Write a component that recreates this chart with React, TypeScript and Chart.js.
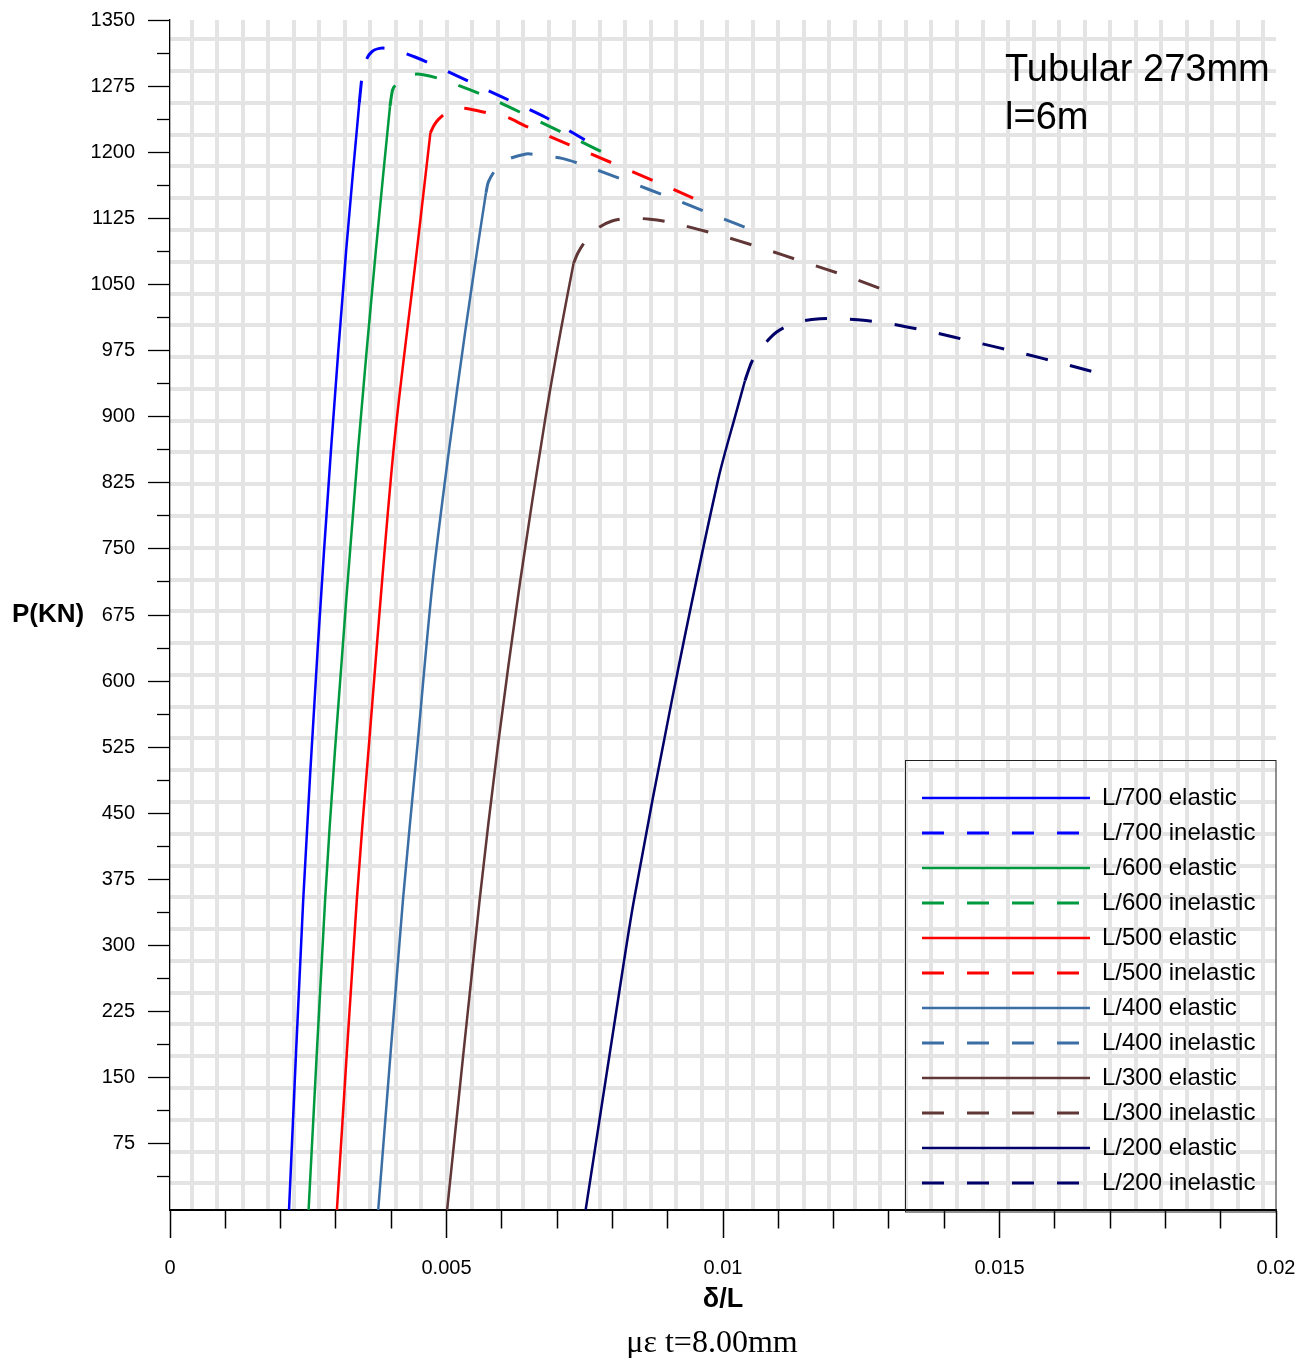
import React, { useEffect, useRef } from 'react';
import { Chart, registerables } from 'chart.js';

Chart.register(...registerables);

// ---------- data (delta/L , P in kN) ----------
const L700_elastic_x = [0.002152, 0.002409, 0.002669, 0.002911, 0.003186, 0.003423];
const L700_elastic_P = [0, 352, 635, 862, 1089, 1256];
const L700_inelastic_x = [0.003423, 0.00347, 0.0035, 0.00365, 0.00389, 0.00443, 0.00521, 0.00599, 0.00678, 0.0075];
const L700_inelastic_P = [1256, 1285, 1298, 1314, 1318, 1308, 1286, 1263, 1240, 1214];

const L600_elastic_x = [0.002506, 0.002805, 0.002984, 0.0034, 0.003723, 0.003978];
const L600_elastic_P = [0, 352, 522, 862, 1089, 1252];
const L600_inelastic_x = [0.003978, 0.004005, 0.00404, 0.00416, 0.00438, 0.00458, 0.00494, 0.00573, 0.00651, 0.00727, 0.00805];
const L600_inelastic_P = [1252, 1264, 1273, 1280, 1288, 1288, 1282, 1263, 1240, 1217, 1193];

const L500_elastic_x = [0.003018, 0.003378, 0.00359, 0.004042, 0.004465, 0.004709];
const L500_elastic_P = [0, 352, 522, 862, 1089, 1222];
const L500_inelastic_x = [0.004709, 0.00477, 0.00485, 0.00503, 0.00528, 0.00564, 0.00608, 0.00642, 0.0072, 0.00799, 0.00877, 0.00946];
const L500_inelastic_P = [1222, 1230, 1237, 1246, 1250, 1246, 1240, 1230, 1209, 1188, 1167, 1148];

const L400_elastic_x = [0.003765, 0.004213, 0.004467, 0.004747, 0.005045, 0.005335, 0.005555, 0.005714];
const L400_elastic_P = [0, 352, 522, 711, 862, 995, 1089, 1154];
const L400_inelastic_x = [0.005714, 0.005756, 0.005895, 0.006076, 0.006438, 0.006637, 0.007089, 0.00745, 0.008228, 0.009024, 0.009819, 0.010597];
const L400_inelastic_P = [1154, 1166, 1181, 1191, 1198, 1197, 1193, 1186, 1168, 1149, 1129, 1110];

const L300_elastic_x = [0.005011, 0.0056, 0.00592, 0.006327, 0.006792, 0.007058, 0.007298];
const L300_elastic_P = [0, 352, 522, 711, 900, 995, 1074];
const L300_inelastic_x = [0.007298, 0.007378, 0.007523, 0.00774, 0.007993, 0.008282, 0.00868, 0.009078, 0.009873, 0.010669, 0.011483, 0.01226, 0.013074];
const L300_inelastic_P = [1074, 1086, 1100, 1114, 1122, 1125, 1124, 1120, 1107, 1092, 1075, 1059, 1040];

const L200_elastic_x = [0.007516, 0.008101, 0.008391, 0.009078, 0.00991, 0.010253, 0.010398];
const L200_elastic_P = [0, 238, 352, 579, 828, 908, 941];
const L200_inelastic_x = [0.010398, 0.010452, 0.010519, 0.010638, 0.010971, 0.011333, 0.011754, 0.012152, 0.012586, 0.012966, 0.01378, 0.014593, 0.015407, 0.01622, 0.017034];
const L200_inelastic_P = [941, 951, 962, 974, 996, 1007, 1011, 1011, 1009, 1006, 996, 984, 972, 959, 945];

// ---------- tick values ----------
const xMajorTicks = [0, 0.005, 0.01, 0.015, 0.02];
const xMinorTicks = [0.001, 0.002, 0.003, 0.004, 0.006, 0.007, 0.008, 0.009, 0.011, 0.012, 0.013, 0.014, 0.016, 0.017, 0.018, 0.019];
const yMajorTicks = [75, 150, 225, 300, 375, 450, 525, 600, 675, 750, 825, 900, 975, 1050, 1125, 1200, 1275, 1350];
const yMinorTicks = [37.5, 112.5, 187.5, 262.5, 337.5, 412.5, 487.5, 562.5, 637.5, 712.5, 787.5, 862.5, 937.5, 1012.5, 1087.5, 1162.5, 1237.5, 1312.5];

const SANS = '"Liberation Sans", Arial, Helvetica, sans-serif';
const SERIF = '"Liberation Serif", "Times New Roman", serif';

const SERIES = [
  { name: 'L/700', color: '#0000ff', ex: L700_elastic_x, ep: L700_elastic_P, ix: L700_inelastic_x, ip: L700_inelastic_P },
  { name: 'L/600', color: '#009a3e', ex: L600_elastic_x, ep: L600_elastic_P, ix: L600_inelastic_x, ip: L600_inelastic_P },
  { name: 'L/500', color: '#ff0000', ex: L500_elastic_x, ep: L500_elastic_P, ix: L500_inelastic_x, ip: L500_inelastic_P },
  { name: 'L/400', color: '#3b6ea5', ex: L400_elastic_x, ep: L400_elastic_P, ix: L400_inelastic_x, ip: L400_inelastic_P },
  { name: 'L/300', color: '#603636', ex: L300_elastic_x, ep: L300_elastic_P, ix: L300_inelastic_x, ip: L300_inelastic_P },
  { name: 'L/200', color: '#000068', ex: L200_elastic_x, ep: L200_elastic_P, ix: L200_inelastic_x, ip: L200_inelastic_P },
];

const near = (a: number, list: number[]) => list.some((v) => Math.abs(v - a) < 1e-9);
const fmtX = (v: number) => String(parseFloat(Number(v).toFixed(4)));

const legendPlacer = {
  id: 'legendPlacer',
  afterLayout(chart: any) {
    const lg = chart.legend;
    if (!lg) return;
    const a = chart.chartArea;
    lg.left = 911;
    lg.top = 775;
    lg.right = a.right;
    lg.bottom = a.bottom + 2;
    lg.width = lg.right - lg.left;
    lg.height = lg.bottom - lg.top;
  },
  beforeDatasetsDraw(chart: any) {
    const ctx = chart.ctx;
    const a = chart.chartArea;
    ctx.save();
    ctx.strokeStyle = '#222';
    ctx.lineWidth = 1;
    ctx.strokeRect(905.5, 760.5, a.right - 905.5, a.bottom + 2 - 760.5);
    ctx.restore();
  },
};

export default function App() {
  const ref = useRef<HTMLCanvasElement | null>(null);

  useEffect(() => {
    if (!ref.current) return;
    const datasets: any[] = [];
    SERIES.forEach((s) => {
      datasets.push({
        label: `${s.name} elastic`,
        data: s.ex.map((x, i) => ({ x, y: s.ep[i] })),
        borderColor: s.color,
        backgroundColor: s.color,
        borderWidth: 2.5,
        borderDash: [],
        pointRadius: 0,
        pointStyle: 'line',
        tension: 0.3,
        fill: false,
      });
      datasets.push({
        label: `${s.name} inelastic`,
        data: s.ix.map((x, i) => ({ x, y: s.ip[i] })),
        borderColor: s.color,
        backgroundColor: s.color,
        borderWidth: 3,
        borderDash: [22, 23],
        pointRadius: 0,
        pointStyle: 'line',
        tension: 0.3,
        fill: false,
      });
    });

    const xTicksAll = [...xMajorTicks, ...xMinorTicks].sort((a, b) => a - b);
    const yTicksAll = [...yMajorTicks, ...yMinorTicks].sort((a, b) => a - b);
    const VGRID = 43;
    const HGRID = 37;

    const chart = new Chart(ref.current, {
      type: 'line',
      data: { datasets },
      plugins: [legendPlacer],
      options: {
        animation: false,
        responsive: false,
        devicePixelRatio: 1,
        events: [],
        layout: { padding: { left: 0, right: 38, top: 20, bottom: 0 } },
        plugins: {
          tooltip: { enabled: false },
          title: { display: false },
          legend: {
            display: true,
            position: 'chartArea' as any,
            align: 'start',
            labels: {
              usePointStyle: true,
              pointStyle: 'line',
              pointStyleWidth: 168,
              padding: 11,
              color: '#000',
              textAlign: 'left',
              font: { family: SANS, size: 24 },
              generateLabels: (c: any) => {
                const items = (Chart.defaults.plugins.legend.labels as any).generateLabels(c);
                return items.map((it: any) => {
                  const ds: any = c.data.datasets[it.datasetIndex];
                  return {
                    ...it,
                    lineDash: ds.borderDash,
                    lineWidth: ds.borderWidth,
                    strokeStyle: ds.borderColor,
                    fillStyle: ds.borderColor,
                    pointStyle: 'line',
                    lineCap: 'butt',
                  };
                });
              },
            },
          },
        },
        scales: {
          x: {
            type: 'linear',
            position: 'bottom',
            min: 0,
            max: 0.02,
            afterBuildTicks: (s: any) => {
              s.ticks = xTicksAll.map((v) => ({ value: v }));
            },
            afterFit: (s: any) => {
              s.height = 148;
            },
            border: { display: true, color: '#000', width: 2 },
            grid: {
              display: true,
              drawOnChartArea: false,
              drawTicks: true,
              tickLength: 28,
              tickColor: '#000',
              tickWidth: 1.5,
              tickBorderDash: (ctx: any) => (ctx.tick && near(ctx.tick.value, xMajorTicks) ? [] : [17.5, 100]),
            } as any,
            ticks: {
              autoSkip: false,
              maxRotation: 0,
              padding: 18,
              color: '#000',
              font: { family: SANS, size: 20 },
              callback: (v: any) => (near(Number(v), xMajorTicks) ? fmtX(Number(v)) : ''),
            },
            title: {
              display: true,
              text: 'δ/L',
              color: '#000',
              font: { family: SANS, size: 27, weight: 'bold' },
              padding: { top: 0, bottom: 42 },
            },
          },
          y: {
            type: 'linear',
            position: 'left',
            min: 0,
            max: 1350,
            afterBuildTicks: (s: any) => {
              s.ticks = yTicksAll.map((v) => ({ value: v }));
            },
            afterFit: (s: any) => {
              s.width = 170;
              s.paddingTop = 0;
              s.paddingBottom = 0;
            },
            border: { display: true, color: '#000', width: 1.3 },
            grid: {
              display: true,
              drawOnChartArea: false,
              drawTicks: true,
              tickLength: 22,
              tickColor: '#000',
              tickWidth: 1.3,
              tickBorderDash: (ctx: any) => (ctx.tick && near(ctx.tick.value, yMajorTicks) ? [] : [13, 9]),
              tickBorderDashOffset: (ctx: any) => (ctx.tick && near(ctx.tick.value, yMajorTicks) ? 0 : 13),
            } as any,
            ticks: {
              autoSkip: false,
              padding: 13,
              color: '#000',
              font: { family: SANS, size: 20 },
              callback: (v: any) => (near(Number(v), yMajorTicks) ? String(v) : ''),
            },
          },
          x2: {
            type: 'linear',
            axis: 'x',
            position: 'top',
            display: true,
            min: -0.851,
            max: 42.505,
            afterBuildTicks: (s: any) => {
              s.ticks = Array.from({ length: VGRID }, (_, i) => ({ value: i }));
            },
            afterFit: (s: any) => {
              s.height = 0;
            },
            border: { display: false },
            grid: { display: true, drawOnChartArea: true, drawTicks: false, color: '#e4e4e4', lineWidth: 4 },
            ticks: { display: false },
          } as any,
          y2: {
            type: 'linear',
            axis: 'y',
            position: 'right',
            display: true,
            reverse: true,
            min: -0.607,
            max: 36.838,
            afterBuildTicks: (s: any) => {
              s.ticks = Array.from({ length: HGRID }, (_, i) => ({ value: i }));
            },
            afterFit: (s: any) => {
              s.width = 0;
              s.paddingTop = 0;
              s.paddingBottom = 0;
            },
            border: { display: false },
            grid: { display: true, drawOnChartArea: true, drawTicks: false, color: '#e4e4e4', lineWidth: 4 },
            ticks: { display: false },
          } as any,
        },
      } as any,
    });
    return () => chart.destroy();
  }, []);

  return (
    <div style={{ position: 'absolute', left: 0, top: 0, width: 1314, height: 1358, background: '#fff' }}>
      <canvas ref={ref} width={1314} height={1358} style={{ display: 'block', width: 1314, height: 1358 }} />
      <div
        style={{
          position: 'absolute',
          left: 12,
          top: 600,
          fontFamily: SANS,
          fontWeight: 'bold',
          fontSize: 26,
          lineHeight: '26px',
          color: '#000',
          whiteSpace: 'nowrap',
        }}
      >
        P(KN)
      </div>
      <div
        style={{
          position: 'absolute',
          left: 1005,
          top: 44,
          fontFamily: SANS,
          fontSize: 38,
          lineHeight: '48px',
          color: '#000',
          whiteSpace: 'nowrap',
        }}
      >
        <div>Tubular 273mm</div>
        <div>l=6m</div>
      </div>
      <div
        style={{
          position: 'absolute',
          left: 562,
          width: 300,
          top: 1325,
          textAlign: 'center',
          fontFamily: SERIF,
          fontSize: 32,
          lineHeight: '32px',
          color: '#000',
          whiteSpace: 'nowrap',
        }}
      >
        με t=8.00mm
      </div>
    </div>
  );
}
